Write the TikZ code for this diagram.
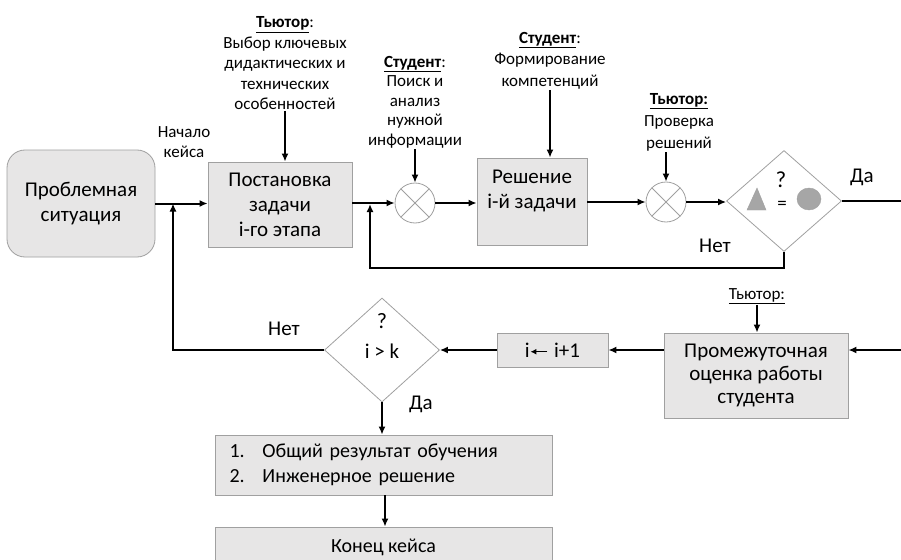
\documentclass[tikz,border=0pt]{standalone}
\usepackage{fontspec}
\setmainfont{Carlito}
\usetikzlibrary{arrows.meta,shapes.geometric,positioning,calc}
\definecolor{boxfill}{HTML}{E7E6E6}
\definecolor{boxline}{HTML}{A0A0A0}
\definecolor{markgray}{HTML}{A6A6A6}
\newcommand{\larr}{\tikz[baseline=-0.55ex]\draw[-{Latex[length=6pt,width=6pt]},line width=1.4pt] (17pt,0) -- (0pt,0);}
\newcommand{\who}[1]{\underline{\textbf{#1}}}

\begin{document}
\begin{tikzpicture}[x=1pt,y=1pt,
    box/.style={draw=boxline, fill=boxfill, line width=0.8pt, align=center,
                inner sep=0pt, font=\fontsize{21}{25}\selectfont},
    decide/.style={diamond, draw=boxline, fill=white, line width=0.8pt,
                inner sep=0pt},
    mult/.style={circle, draw=boxline, fill=white, line width=0.8pt,
                minimum size=40pt, inner sep=0pt,
                path picture={\draw[boxline, line width=0.8pt]
                  (path picture bounding box.north west) -- (path picture bounding box.south east)
                  (path picture bounding box.north east) -- (path picture bounding box.south west);}},
    note/.style={align=center, inner sep=1pt, font=\fontsize{17}{20.5}\selectfont},
    tag/.style={inner sep=0pt, font=\fontsize{21}{24}\selectfont},
    arr/.style={line width=2pt, -{Latex[length=8pt,width=7pt]}},
    wire/.style={line width=2pt}]
    \clip (0,0) rectangle (901,-559);
    \fill[white] (0,0) rectangle (901,-559);

    % upper row
    \node[box, rounded corners=18pt, minimum width=148pt, minimum height=107pt]
        (prob) at (81,-203.5) {Проблемная\\ситуация};
    \node[box, minimum width=144pt, minimum height=85pt]
        (task) at (280,-204.5) {Постановка\\задачи\\i-го этапа};
    \node[mult] (mul1) at (415,-203) {};
    \node[box, minimum width=110pt, minimum height=87pt]
        (solve) at (532,-201.5) {Решение\\i-й задачи\\\mbox{}};
    \node[mult] (mul2) at (666,-202) {};
    \node[decide, minimum width=115pt, minimum height=101pt] (check) at (784,-201) {};

    % marks inside the check
    \filldraw[fill=markgray, draw=boxline] (747,-210) -- (757,-188) -- (766,-210) -- cycle;
    \filldraw[fill=markgray, draw=boxline] (809,-199) ellipse (12pt and 11pt);
    \node[tag, font=\fontsize{23}{24}\selectfont] (qmark) at (781,-180) {?};
    \node[tag, font=\fontsize{19}{20}\selectfont] (eqmark) at (782,-205) {=};

    % notes above
    \node[note, anchor=south] (tutor1) at (285,-111)
        {\who{Тьютор}:\\Выбор ключевых\\дидактических и\\технических\\особенностей};
    \node[note, anchor=south, font=\fontsize{17}{19.5}\selectfont] (stud1) at (415,-149)
        {\who{Студент}:\\Поиск и\\анализ\\нужной\\информации};
    \node[note, anchor=south, font=\fontsize{17}{21.5}\selectfont] (stud2) at (550,-90)
        {\who{Студент}:\\Формирование\\компетенций};
    \node[note, anchor=south, font=\fontsize{17}{22}\selectfont] (tutor2) at (679,-152)
        {\who{Тьютор:}\\Проверка\\решений};
    \node[note] (start) at (184,-142) {Начало\\кейса};
    \node[tag] (yes1) at (862,-177) {Да};
    \node[tag] (no1) at (715,-246) {Нет};

    % lower row
    \node[box, minimum width=184pt, minimum height=85pt, font=\fontsize{21}{23}\selectfont]
        (eval) at (756,-375.5) {Промежуточная\\оценка работы\\студента};
    \node[box, minimum width=111pt, minimum height=34pt]
        (next) at (552.5,-350) {i\larr\hspace{6pt}i+1};
    \node[decide, minimum width=115pt, minimum height=104pt] (cmp) at (382,-350) {};
    \node[tag, font=\fontsize{22}{24}\selectfont] (cmpq) at (382,-321) {?};
    \node[tag] (cmpk) at (382,-351) {i > k};
    \node[box, minimum width=337pt, minimum height=60pt, align=left, text width=308pt,
          font=\fontsize{20}{25}\selectfont]
        (result) at (383.5,-465)
        {\makebox[33pt][l]{1.}Общий результат обучения\\\makebox[33pt][l]{2.}Инженерное решение};
    \node[box, minimum width=337pt, minimum height=40pt, font=\fontsize{20}{22}\selectfont]
        (fin) at (383.5,-547) {Конец кейса};
    \node[note, font=\fontsize{17}{20}\selectfont, anchor=south] (tutor3) at (757,-305) {\underline{Тьютор:}};
    \node[tag] (no2) at (284,-329) {Нет};
    \node[tag] (yes2) at (421,-404) {Да};

    % junctions and loose ends
    \coordinate (join1) at (173,-203.5);
    \coordinate (join2) at (370,-204);
    \coordinate (outR1) at (910,-201);
    \coordinate (outR2) at (910,-350);

    % main flow
    \draw[arr] (prob.east) -- (prob.east -| task.west);
    \draw[arr] (task.east |- mul1.west) -- (mul1.west);
    \draw[arr] (mul1.east) -- (mul1.east -| solve.west);
    \draw[arr] (solve.east |- mul2.west) -- (mul2.west);
    \draw[arr] (mul2.east) -- (mul2.east -| check.west);
    \draw[wire] (check.east) -- (outR1);
    \draw[arr] (check.south) -- ++(0,-16) -| (join2);
    \draw[arr] (outR2) -- (eval.east |- outR2);
    \draw[arr] (eval.west |- next.east) -- (next.east);
    \draw[arr] (next.west) -- (cmp.east);
    \draw[arr] (cmp.west) -| (join1);
    \draw[arr] (cmp.south) -- (result.north -| cmp.south);
    \draw[arr] (result.south -| 385,0) -- (fin.north -| 385,0);

    % inputs from the notes
    \draw[arr] (tutor1.south) -- (tutor1.south |- task.north);
    \draw[arr] (stud1.south) -- (mul1.north);
    \draw[arr] (stud2.south) -- (stud2.south |- solve.north);
    \draw[arr] (mul2.north |- tutor2.south) -- (mul2.north);
    \draw[arr] (tutor3.south) -- (tutor3.south |- eval.north);
\end{tikzpicture}
\end{document}
